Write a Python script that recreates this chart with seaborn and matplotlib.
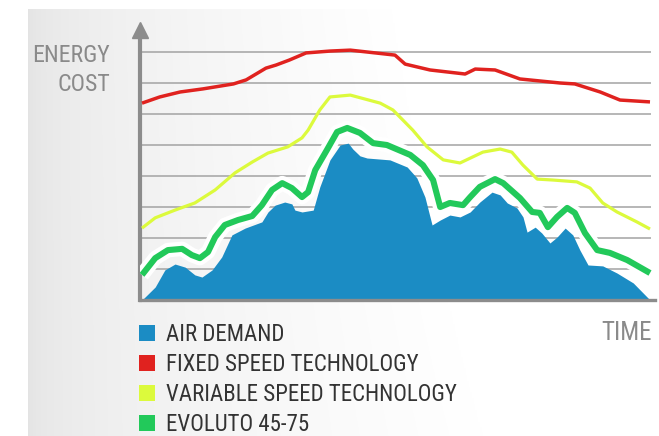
import numpy as np
import matplotlib
matplotlib.use("Agg")
import matplotlib.pyplot as plt
import matplotlib.patheffects as pe
from matplotlib.patches import Patch
import seaborn as sns

# ---------------- data ----------------
categories = ["AIR DEMAND", "FIXED SPEED TECHNOLOGY",
              "VARIABLE SPEED TECHNOLOGY", "EVOLUTO 45-75"]
colors = ["#1b8cc4", "#e0221f", "#dcfa3c", "#22c95a"]

air_t = [0, 2.6, 4.5, 6.5, 8.5, 10.4, 11.8, 13.8, 15.7, 17.7, 20.3, 23.6, 24.8,
         26.2, 28.1, 29.5, 30.1, 31.5, 33.7, 35, 37, 39, 40.6, 41.5, 42.9, 44.3,
         48.8, 52.2, 54.1, 55.7, 57.1, 58.7, 60.6, 62.6, 64.6, 66.5, 68.9, 70.5,
         71.9, 73.8, 75, 75.8, 77.4, 78.7, 80.3, 81.7, 83.3, 84.8, 86.2, 87.8,
         90.7, 93.5, 96.7, 100]
air_v = [0, 4.2, 9.7, 11.6, 10.6, 8.1, 7.4, 9.7, 13.9, 21, 23.2, 25.2, 28.4,
         30.6, 31.6, 31, 29, 28.4, 29, 36.5, 45.2, 50, 50.6, 48.7, 46.5, 45.8,
         45.2, 42.9, 39.4, 33.2, 24.2, 25.8, 27.4, 26.8, 28.4, 31.6, 34.8, 33.9,
         31.3, 29.7, 26.8, 21.9, 23.5, 21.6, 18.4, 20.3, 23.2, 21, 16.1, 11.3,
         11, 8.7, 5.5, 0]

fixed_t = [0, 3.5, 7.5, 12, 18, 20.5, 24.4, 26.4, 29, 32.3, 37, 41, 49.8, 51.8,
           56.7, 63.6, 65.6, 69.5, 74.4, 82.3, 85.2, 90.2, 94.1, 100]
fixed_v = [63.5, 65.5, 67.1, 68.1, 69.7, 71, 74.8, 75.8, 77.4, 79.7, 80.3, 80.6,
           79, 76.1, 74.2, 72.9, 74.5, 74.2, 71.3, 70, 69.7, 67.1, 64.5, 63.9]

var_t = [0, 2.6, 6.5, 10.4, 14.4, 18.3, 21.7, 24.8, 28.7, 31.5, 32.7, 35, 37,
         41, 46.9, 49.4, 53.3, 56.1, 59.3, 62.6, 67.1, 70.5, 72.8, 75, 77.8,
         80.9, 85.6, 88.2, 90.7, 93.5, 97.4, 100]
var_v = [23.2, 26.5, 29, 31.3, 35.5, 41, 44.5, 47.4, 49.4, 52.3, 54.8, 61.3,
         65.5, 66.1, 63.5, 61.3, 54.8, 49.4, 45.2, 44.2, 47.7, 48.7, 47.7, 43.5,
         39, 38.7, 38.1, 36.1, 31.3, 28.4, 25.2, 22.9]

evo_t = [0, 2.6, 5.1, 7.9, 9.8, 11.4, 13, 14.4, 16.3, 18.9, 21.7, 23.6, 25.6,
         27.6, 29.5, 31.5, 32.7, 34.1, 36.4, 38.4, 40.4, 42.9, 45.5, 48.2, 52.8,
         55.3, 57.3, 58.7, 60.6, 63.2, 64.6, 66.5, 69.5, 71.1, 74.4, 76.8, 78.3,
         79.9, 81.7, 83.7, 85.2, 87.2, 89.6, 92.1, 95.5, 100]
evo_v = [8.1, 13.5, 16.1, 16.5, 14.5, 13.5, 15.5, 20.3, 24.2, 25.8, 27.1, 30.6,
         35.5, 37.7, 36.1, 33.2, 34.8, 41.9, 48.4, 54.2, 55.5, 53.9, 50.6, 50,
         46.8, 43.5, 38.7, 30, 31.3, 30.6, 33.2, 36.5, 39, 37.7, 32.9, 28.4,
         28.1, 23.5, 26.8, 29.7, 28.1, 21.6, 16.1, 15.2, 12.9, 8.7]

grid_levels = [10, 20, 30, 40, 50, 60, 70, 80]
y_label_lines = ["ENERGY", "COST"]
x_label = "TIME"

# ---------------- style ----------------
sns.set_theme(style="white")
plt.rcParams['font.family'] = ['Roboto Condensed', 'Roboto', 'DejaVu Sans']
plt.rcParams['font.stretch'] = 'condensed'

W, H = 659, 436
fig = plt.figure(figsize=(W / 100, H / 100), dpi=100, facecolor="white")

# soft grey background gradient
bg = fig.add_axes([28 / W, 0, 1 - 28 / W, (H - 9) / H])
bg.set_axis_off()
X, Y = np.meshgrid(np.linspace(0, 1, 400), np.linspace(0, 1, 300))
val = 0.892 + 0.108 * np.sqrt(np.clip(X / 0.72, 0, 1))
val = np.clip(val + 0.02 * (1 - Y) * X, 0, 1)
bg.imshow(np.dstack([val, val, val]), aspect="auto", extent=[0, 1, 0, 1],
          origin="upper", zorder=0)
bg.set_xlim(0, 1)
bg.set_ylim(0, 1)

# main axes
px_x0, px_x1 = 142, 650
sx = (px_x1 - px_x0) / 100.0
sy = 3.1
ax = fig.add_axes([140 / W, (H - 300) / H, (655 - 140) / W, (300 - 22) / H])
ax.patch.set_alpha(0)
xmin, xmax = (140 - px_x0) / sx, (655 - px_x0) / sx
ymax = (300 - 22) / sy
ax.set_xlim(xmin, xmax)
ax.set_ylim(0, ymax)
ax.set_xticks([])
ax.set_yticks([])
axis_col = "#8c8c8c"
for s in ["top", "right"]:
    ax.spines[s].set_visible(False)
ax.spines["left"].set_color(axis_col)
ax.spines["left"].set_linewidth(3.0)
ax.spines["left"].set_bounds(0, (300 - 35) / sy)
ax.spines["bottom"].set_color(axis_col)
ax.spines["bottom"].set_linewidth(2.4)
ax.spines["bottom"].set_zorder(6)

# arrow head on the y axis
ax.plot([0], [1 - 7.5 / 278], marker="^", markersize=11.5, color=axis_col,
        transform=ax.transAxes, clip_on=False, zorder=6)

# grid lines
ax.hlines(grid_levels, xmin, (651 - px_x0) / sx, color="#a3a3a3", lw=1.1, zorder=1)

# air demand area
ax.fill_between(air_t, 0, air_v, color=colors[0], lw=0, zorder=2)

# lines
sns.lineplot(x=evo_t, y=evo_v, ax=ax, color=colors[3], linewidth=4.4,
             solid_joinstyle="round", solid_capstyle="butt", zorder=4,
             path_effects=[pe.Stroke(linewidth=10.5, foreground="white"), pe.Normal()])
sns.lineplot(x=var_t, y=var_v, ax=ax, color=colors[2], linewidth=2.3,
             solid_joinstyle="round", solid_capstyle="butt", zorder=4)
sns.lineplot(x=fixed_t, y=fixed_v, ax=ax, color=colors[1], linewidth=2.5,
             solid_joinstyle="round", solid_capstyle="butt", zorder=4)
ax.set_xlabel("")
ax.set_ylabel("")

# texts
txt_col = "#8a8a8a"
fig.text(110 / W, 1 - 56 / H, y_label_lines[0], ha="right", va="center",
         fontsize=17.2, color=txt_col)
fig.text(110 / W, 1 - 84.5 / H, y_label_lines[1], ha="right", va="center",
         fontsize=17.2, color=txt_col)
fig.text(652 / W, 1 - 333 / H, x_label, ha="right", va="center",
         fontsize=18, color=txt_col)

# legend
handles = [Patch(facecolor=c, edgecolor="none", label=l)
           for c, l in zip(colors, categories)]
fig.legend(handles=handles, loc="upper left", bbox_to_anchor=(139 / W, 1 - 323 / H),
           frameon=False, fontsize=16.5, handlelength=0.71, handleheight=0.71,
           handletextpad=0.46, labelspacing=0.3, borderpad=0, borderaxespad=0,
           labelcolor="#333333")

fig.savefig("out.png", dpi=100, facecolor="white")
